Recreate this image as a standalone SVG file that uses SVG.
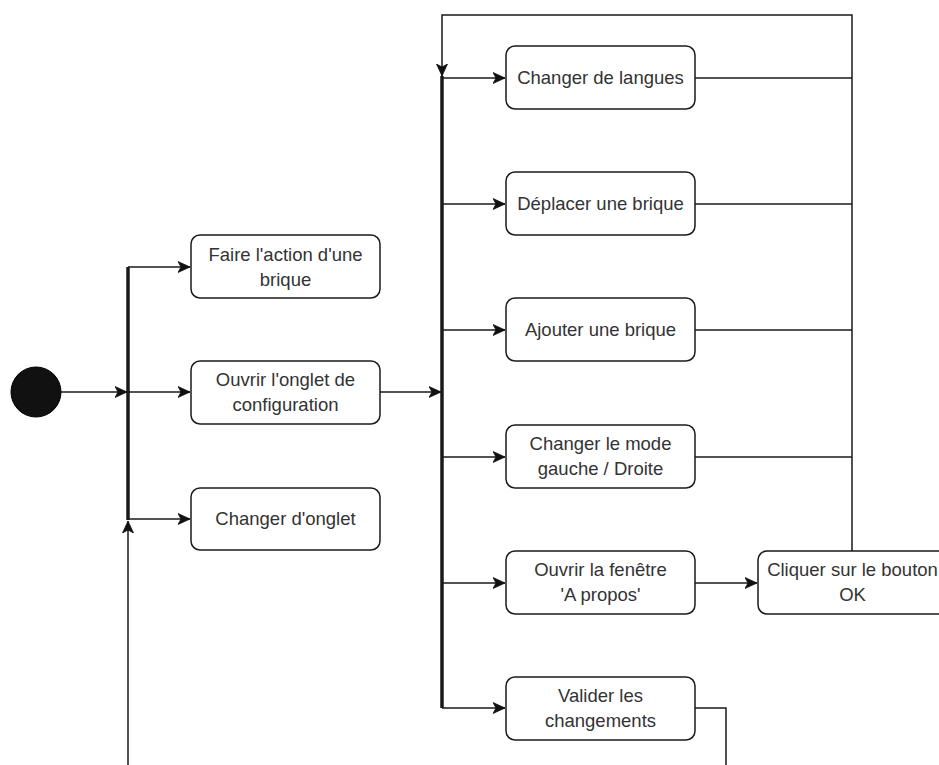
<svg xmlns="http://www.w3.org/2000/svg" width="939" height="765" viewBox="0 0 939 765">
  <style>
    .box rect { fill: #ffffff; stroke: #1a1a1a; stroke-width: 1.5; }
    .box text { font-family: "Liberation Sans", Arial, sans-serif; font-size: 18.5px; fill: #333333; text-anchor: middle; }
    .edge { fill: none; stroke: #1a1a1a; stroke-width: 1.5; }
    .bar { fill: none; stroke: #1a1a1a; stroke-width: 3.5; }
  </style>
  <defs>
    <marker id="arrow" markerWidth="13" markerHeight="12" refX="12" refY="6" orient="auto" markerUnits="userSpaceOnUse">
      <path d="M0,0.5 L12,6 L0,11.5 L3,6 Z" fill="#111111" stroke="#111111" stroke-width="0.8" stroke-linejoin="miter"/>
    </marker>
  </defs>
  <rect width="939" height="765" fill="#ffffff"/>

  <!-- connectors -->
  <g id="connectors">
    <!-- fork bars -->
    <line class="bar" x1="128" y1="267" x2="128" y2="520"/>
    <line class="bar" x1="442" y1="76" x2="442" y2="708"/>

    <!-- start to left fork -->
    <path class="edge" d="M61,392 H127" marker-end="url(#arrow)"/>
    <!-- left fork to activities -->
    <path class="edge" d="M128,267 H190" marker-end="url(#arrow)"/>
    <path class="edge" d="M128,392 H190" marker-end="url(#arrow)"/>
    <path class="edge" d="M128,519 H190" marker-end="url(#arrow)"/>

    <!-- configuration tab to right fork -->
    <path class="edge" d="M380,392 H441" marker-end="url(#arrow)"/>

    <!-- right fork to activities -->
    <path class="edge" d="M442,78 H505" marker-end="url(#arrow)"/>
    <path class="edge" d="M442,204 H505" marker-end="url(#arrow)"/>
    <path class="edge" d="M442,330 H505" marker-end="url(#arrow)"/>
    <path class="edge" d="M442,457 H505" marker-end="url(#arrow)"/>
    <path class="edge" d="M442,583 H505" marker-end="url(#arrow)"/>
    <path class="edge" d="M442,708 H505" marker-end="url(#arrow)"/>

    <!-- return loop over the top -->
    <path class="edge" d="M695,78 H852"/>
    <path class="edge" d="M695,204 H852"/>
    <path class="edge" d="M695,330 H852"/>
    <path class="edge" d="M695,457 H852"/>
    <path class="edge" d="M852,551 V15 H442 V76" marker-end="url(#arrow)"/>

    <!-- about window to OK button -->
    <path class="edge" d="M695,583 H757" marker-end="url(#arrow)"/>

    <!-- validate changes loop back to the left fork -->
    <path class="edge" d="M695,708 H726 V765"/>
    <path class="edge" d="M128,765 V521" marker-end="url(#arrow)"/>
  </g>

  <!-- initial node -->
  <g id="start">
    <circle cx="36" cy="392" r="25" fill="#111111" stroke="#000000" stroke-width="1"/>
  </g>

  <g id="faire-action" class="box">
    <rect x="191" y="235" width="189" height="63" rx="9"/>
    <text x="285.5" y="261">Faire l'action d'une</text>
    <text x="285.5" y="286">brique</text>
  </g>
  <g id="ouvrir-onglet" class="box">
    <rect x="191" y="361" width="189" height="63" rx="9"/>
    <text x="285.5" y="386">Ouvrir l'onglet de</text>
    <text x="285.5" y="411">configuration</text>
  </g>
  <g id="changer-onglet" class="box">
    <rect x="191" y="488" width="189" height="62" rx="9"/>
    <text x="285.5" y="525">Changer d'onglet</text>
  </g>

  <g id="changer-langues" class="box">
    <rect x="506" y="46" width="189" height="63" rx="9"/>
    <text x="600.5" y="84">Changer de langues</text>
  </g>
  <g id="deplacer-brique" class="box">
    <rect x="506" y="172" width="189" height="63" rx="9"/>
    <text x="600.5" y="210">Déplacer une brique</text>
  </g>
  <g id="ajouter-brique" class="box">
    <rect x="506" y="298" width="189" height="63" rx="9"/>
    <text x="600.5" y="336">Ajouter une brique</text>
  </g>
  <g id="changer-mode" class="box">
    <rect x="506" y="425" width="189" height="63" rx="9"/>
    <text x="600.5" y="450">Changer le mode</text>
    <text x="600.5" y="475">gauche / Droite</text>
  </g>
  <g id="ouvrir-apropos" class="box">
    <rect x="506" y="551" width="189" height="63" rx="9"/>
    <text x="600.5" y="576">Ouvrir la fenêtre</text>
    <text x="600.5" y="601">'A propos'</text>
  </g>
  <g id="valider" class="box">
    <rect x="506" y="677" width="189" height="63" rx="9"/>
    <text x="600.5" y="702">Valider les</text>
    <text x="600.5" y="727">changements</text>
  </g>

  <g id="cliquer-ok" class="box">
    <rect x="758" y="551" width="200" height="63" rx="9"/>
    <text x="852.5" y="576">Cliquer sur le bouton</text>
    <text x="852.5" y="601">OK</text>
  </g>
</svg>
